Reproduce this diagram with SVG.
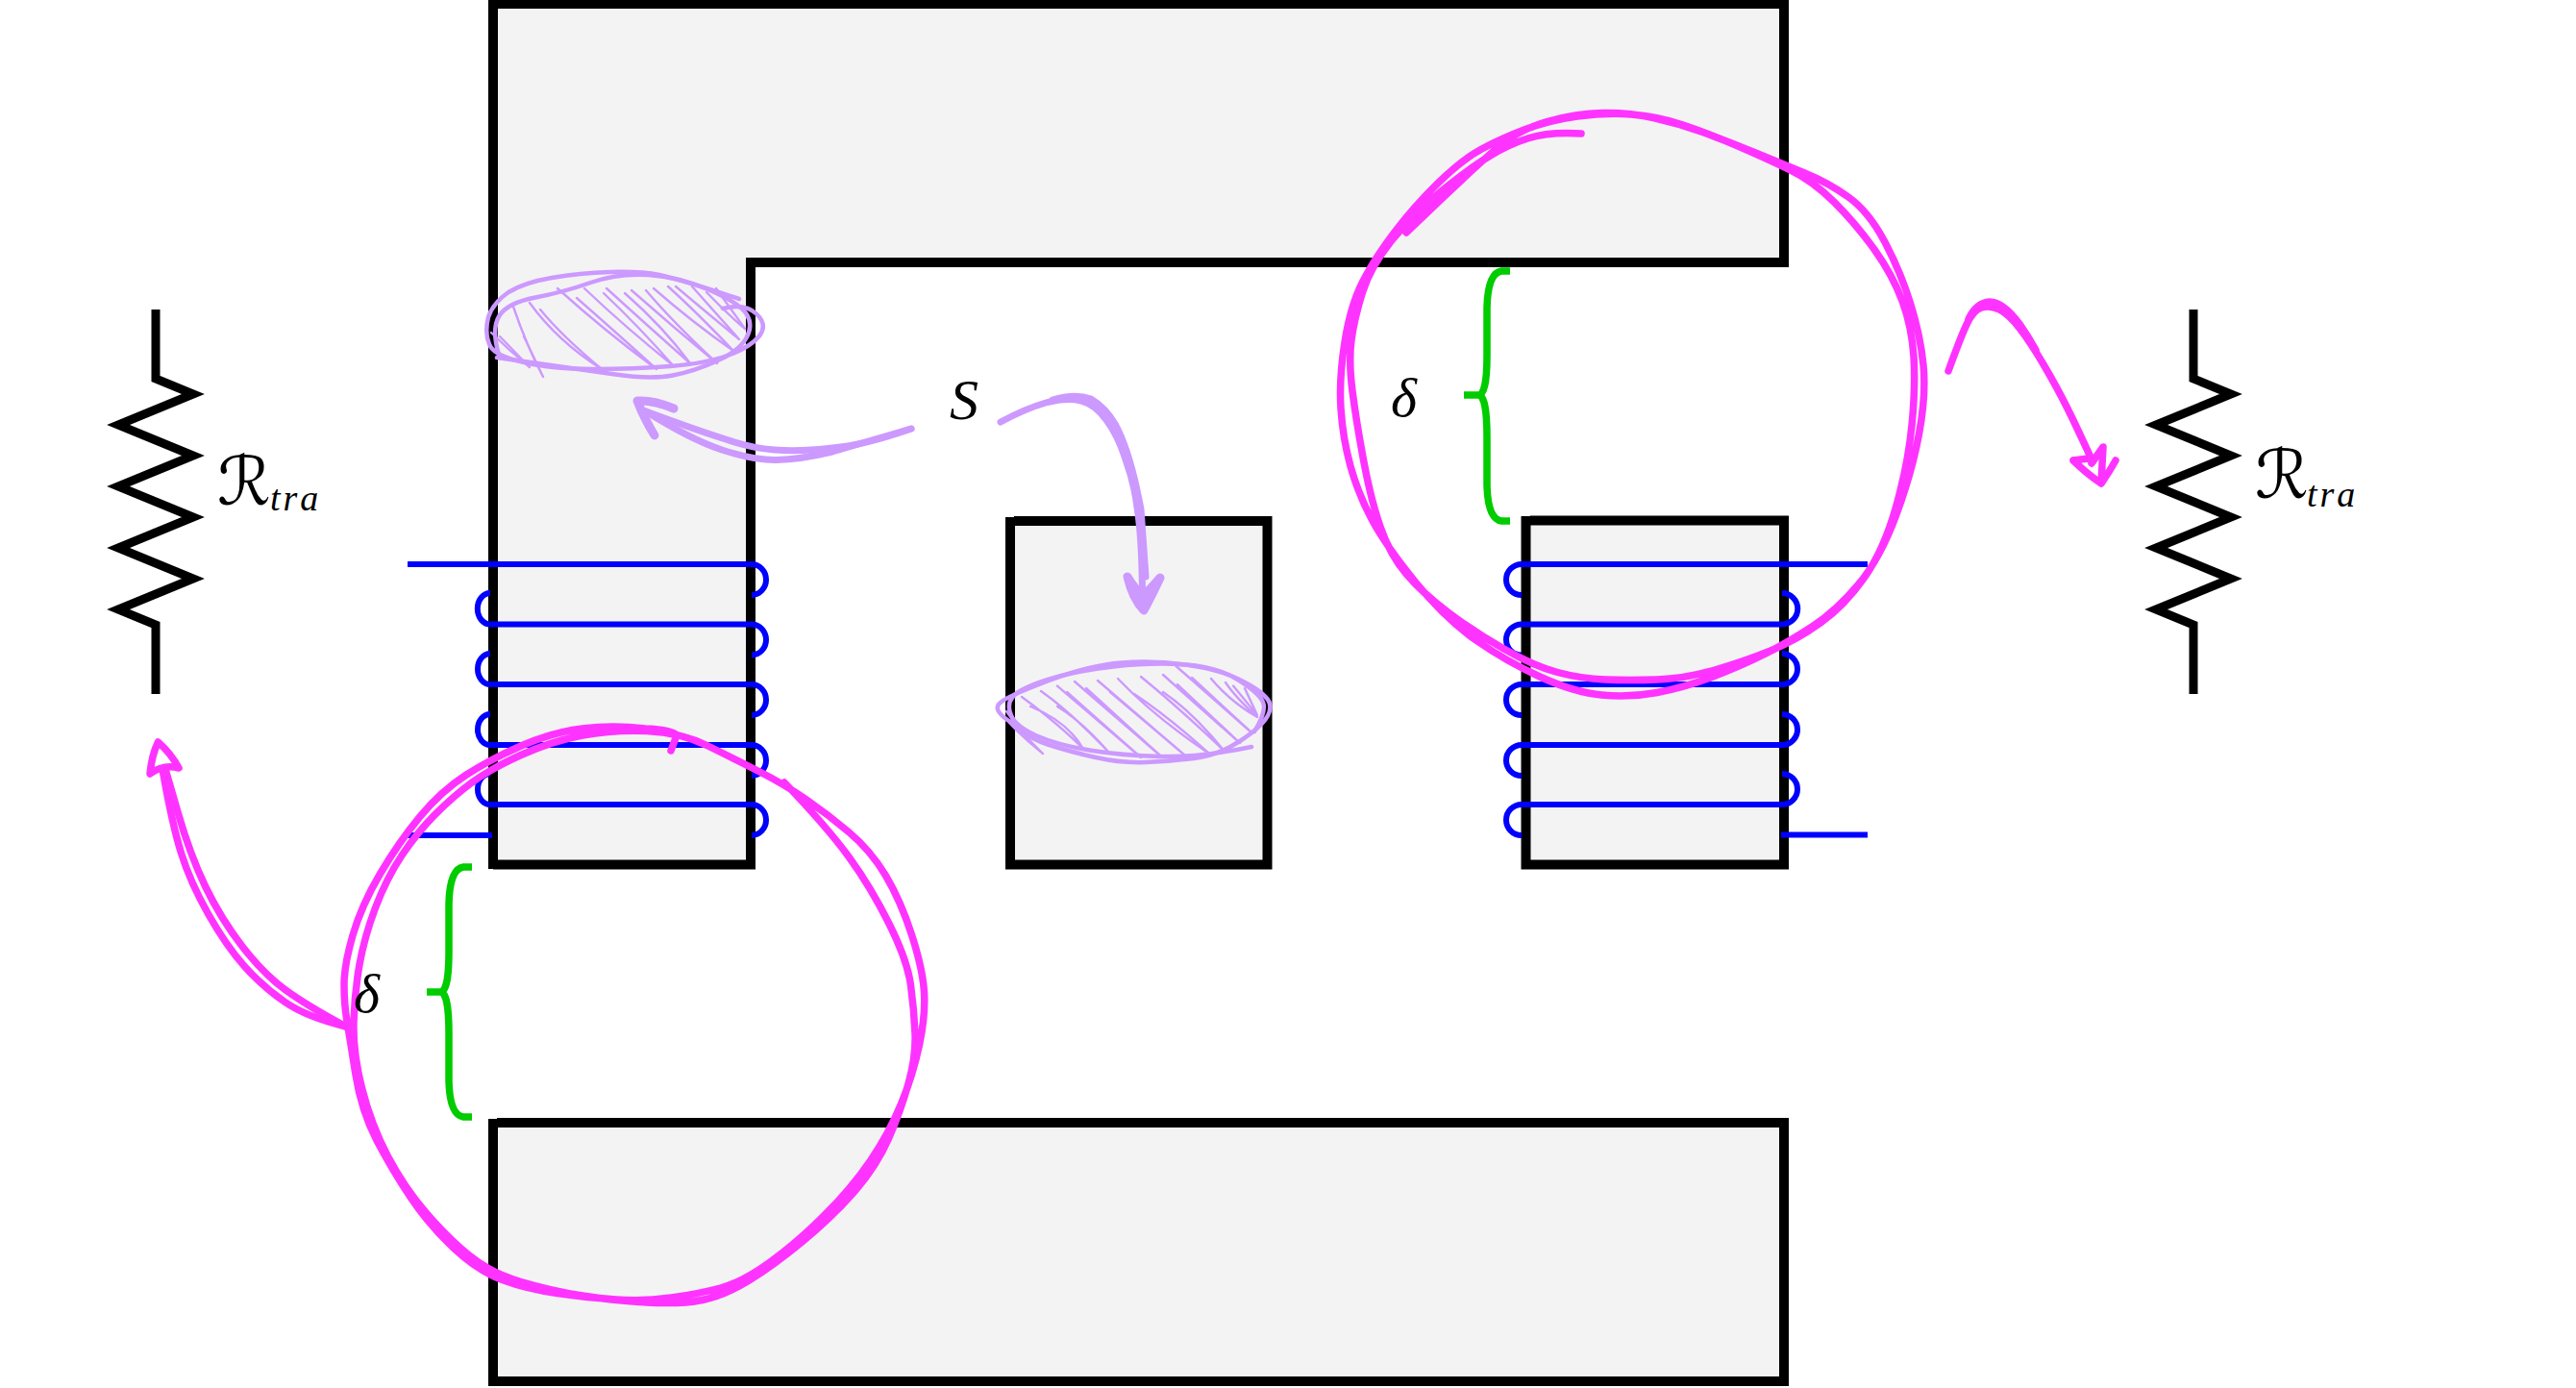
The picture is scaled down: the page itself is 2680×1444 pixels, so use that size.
<svg xmlns="http://www.w3.org/2000/svg" width="2680" height="1444" viewBox="0 0 2680 1444">
<style>
.core{fill:#f3f3f3;stroke:#000;stroke-width:10;stroke-linejoin:miter}
.res{fill:none;stroke:#000;stroke-width:9;stroke-linejoin:miter}
.coil{fill:none;stroke:#0000ff;stroke-width:6}
.brace{fill:none;stroke:#00cc00;stroke-width:7.5}
.pink{fill:none;stroke:#ff33ff;stroke-width:7.5;stroke-linecap:round;stroke-linejoin:round}
.purple{fill:none;stroke:#cc99ff;stroke-width:4.5;stroke-linecap:round;stroke-linejoin:round}
.hatch{fill:none;stroke:#cc99ff;stroke-width:2.4;stroke-linecap:round;stroke-linejoin:round}
.arrow{fill:none;stroke:#cc99ff;stroke-width:7;stroke-linecap:round;stroke-linejoin:round}
text{fill:#000;font-family:"Liberation Serif","DejaVu Serif",serif;font-style:italic}
.cal{font-family:"DejaVu Sans","Noto Sans",sans-serif;font-style:normal;font-size:70px}
</style>
<rect width="2680" height="1444" fill="#fff"/>

<g id="core-top"><path class="core" d="M513 904V4H1856V273H781V899.5H513Z"/></g>
<g id="core-middle"><path class="core" d="M1055 542H1318.5V899.5H1051V538"/></g>
<g id="core-right"><path class="core" d="M1592 541.5H1856V899.5H1587.5V537"/></g>
<g id="core-bottom"><path class="core" d="M517 1168H1856V1437H513V1164"/></g>

<g id="coil-left">
<path class="coil" d="M424 587H782A15 16 0 0 1 782 619"/>
<path class="coil" d="M510 617A13 16 0 0 0 510 649.5H782A15 16 0 0 1 782 681.5"/>
<path class="coil" d="M510 680A13 16 0 0 0 510 712H782A15 16 0 0 1 782 744"/>
<path class="coil" d="M510 743A13 16 0 0 0 510 775H782A15 16 0 0 1 782 807"/>
<path class="coil" d="M510 805A13 16 0 0 0 510 837H782A15 16 0 0 1 782 869"/>
<path class="coil" d="M424 869H512"/>
</g>
<g id="coil-right">
<path class="coil" d="M1943 587H1583A16 16 0 0 0 1583 619"/>
<path class="coil" d="M1854 617A16 16 0 0 1 1854 649.5H1583A16 16 0 0 0 1583 681.5"/>
<path class="coil" d="M1854 680A16 16 0 0 1 1854 712H1583A16 16 0 0 0 1583 744"/>
<path class="coil" d="M1854 743A16 16 0 0 1 1854 775H1583A16 16 0 0 0 1583 807"/>
<path class="coil" d="M1854 805A16 16 0 0 1 1854 837H1583A16 16 0 0 0 1583 869"/>
<path class="coil" d="M1853 868.5H1943"/>
</g>

<g id="resistor-left"><path class="res" d="M162 322V394L201 410L123 442L201 474L123 506L201 538L123 570L201 602L123 634L162 650V722"/></g>
<g id="resistor-right"><path class="res" d="M2282 322V394L2321 410L2243 442L2321 474L2243 506L2321 538L2243 570L2321 602L2243 634L2282 650V722"/></g>

<g id="brace-left"><path class="brace" d="M491 902H482Q468 904 467 940V990Q467 1032 458 1032H444M458 1032Q467 1032 467 1075V1125Q468 1160 482 1162H491"/></g>
<g id="brace-right"><path class="brace" d="M1571 282H1562Q1548 284 1547 320V370Q1547 411 1538 411H1523M1538 411Q1547 411 1547 455V505Q1548 540 1562 542H1571"/></g>

<g id="section-top">
<path class="purple" d="M769 311Q706 290 686 286Q666 282 634.5 283Q603 284 574 289Q545 294 529 304Q513 315 508 330Q504 346 509 358Q513 370 545.5 377Q574 384 617 384Q660 384 697.5 381Q735 378 758 369.5Q781 361 790 349.5Q799 338 787 326.5Q775 315 752 321"/>
<path class="purple" d="M517 372Q603 384 640 389.5Q677 395 700 390.5Q723 386 746 375.5Q769 365 776.5 351.5Q784 338 776.5 326.5Q769 315 737.5 301.5Q706 288 674.5 286Q643 284 614.5 294Q586 304 557 309.5Q528 315 519.5 328.5Q511 342 519 369"/>
<path class="hatch" d="M534 319Q548 360 565 392L545 350M551 315Q580 355 626 384Q585 350 562 322M580 300Q630 345 683 384Q640 345 600 310M608 300Q650 340 700 380Q665 340 628 305M631 300Q675 340 718 378Q690 340 650 305M657 302Q700 340 746 378Q700 335 672 302M680 300Q720 335 763 365Q725 325 695 298M703 298Q735 325 769 353Q735 315 720 298M735 304Q755 325 775 342L745 300M511 346Q530 365 551 382L520 350"/>
</g>
<g id="section-middle">
<path class="purple" d="M1042 730Q1030 738 1052 751.5Q1067 767 1090 774.5Q1113 782 1140 788Q1167 794 1192 793Q1217 792 1242 789Q1267 786 1290 771Q1313 756 1319 744.5Q1325 733 1316.5 725Q1310 717 1288.5 706.5Q1267 696 1233.5 691.5Q1200 687 1166.5 689.5Q1133 692 1090 708.5Q1047 725 1042 730"/>
<path class="purple" d="M1302 777Q1250 788 1208.5 787Q1167 786 1133.5 780.5Q1100 775 1078.5 765.5Q1057 756 1052 744.5Q1047 733 1053.5 725Q1060 717 1088.5 707.5Q1117 698 1158.5 693.5Q1200 689 1233.5 691.5Q1267 694 1288.5 707.5Q1310 721 1314 730.5Q1318 740 1305 761"/>
<path class="hatch" d="M1063 725Q1100 752 1127 779Q1110 750 1072 735M1083 719Q1113 740 1153 782Q1125 750 1100 735M1100 713.6L1187 788L1110 720M1118 709L1207 786L1130 716M1142 708L1233 786L1155 720M1163 706Q1200 745 1258 784Q1215 745 1180 722M1187 704Q1225 735 1273 780.5Q1240 740 1210 720M1210 702L1290 773L1225 712M1223 692.5L1303 763L1240 705M1260 706Q1280 730 1308 746Q1285 725 1275 710M1283 713.6L1308 744L1295 716M1047 740Q1062 762 1085 784Q1065 768 1050 752"/>
</g>

<g id="connectors">
<g id="air-gap-loops">
<path class="pink" d="M1645 139Q1612 137 1591 143.5Q1570 150 1549.5 162.5Q1529 175 1500 198.5Q1471 222 1448.5 249.5Q1426 277 1417.5 304Q1409 331 1406 353.5Q1403 376 1407 407Q1411 438 1418.5 478.5Q1426 519 1436 548Q1446 577 1463 597Q1480 617 1506.5 637Q1533 657 1564.5 675Q1596 693 1620.5 699.5Q1645 706 1670 707Q1695 708 1724 707Q1753 706 1784 697Q1815 688 1842 677Q1869 666 1894 648Q1919 630 1939.5 601Q1960 572 1972.5 527.5Q1985 483 1989 442.5Q1993 402 1991 371Q1989 340 1979 313Q1969 286 1950 259.5Q1931 233 1908.5 210.5Q1886 188 1861 176Q1836 164 1807 151.5Q1778 139 1751 130Q1724 121 1697 119Q1670 117 1641 121Q1612 125 1587 134.5Q1562 144 1541.5 155Q1521 166 1496 190.5Q1471 215 1450.5 242Q1430 269 1417.5 293.5Q1405 318 1399 356Q1393 394 1395 425Q1397 456 1405 485Q1413 514 1427.5 541Q1442 568 1473 606Q1504 644 1535.5 666Q1567 688 1602 704Q1637 720 1666 723Q1695 726 1724 720.5Q1753 715 1782 704Q1811 693 1836 680.5Q1861 668 1886 651.5Q1911 635 1933.5 608Q1956 581 1972.5 536.5Q1989 492 1996.5 451.5Q2004 411 2001 380Q1998 349 1987.5 315.5Q1977 282 1960.5 251Q1944 220 1923 205Q1902 190 1877.5 180Q1853 170 1824 158Q1795 146 1770 137Q1745 128 1720 122.5Q1695 117 1667.5 117.5Q1640 118 1609.5 126.5Q1579 135 1554 157Q1529 179 1496 210.5L1463 242"/>
<path class="pink" d="M698 781L704 765Q700 759 671 758Q638 754 606 758Q574 762 542 776Q510 790 484.5 806.5Q459 823 437 849.5Q415 876 395.5 909Q376 942 367 973Q358 1004 358 1024.5Q358 1045 361 1062.5Q364 1080 370 1118Q376 1156 392 1186.5Q408 1217 427 1245.5Q446 1274 471.5 1298Q497 1322 522.5 1331.5Q548 1341 580 1345.5Q612 1350 641 1352Q670 1354 698.5 1350Q727 1346 749.5 1340Q772 1334 800.5 1313.5Q829 1293 857.5 1264.5Q886 1236 905.5 1207.5Q925 1179 937.5 1148.5Q950 1118 956.5 1087Q963 1056 961.5 1032Q960 1008 948.5 972.5Q937 937 921.5 911Q906 885 883.5 866Q861 847 838.5 831.5Q816 816 790.5 803Q765 790 736.5 776Q708 762 673 760.5Q638 759 606 765Q574 771 542 785.5Q510 800 491 814Q472 828 453 847Q434 866 418 890Q402 914 390.5 944.5Q379 975 374 1003.5Q369 1032 368 1063Q367 1094 376.5 1132Q386 1170 403.5 1203Q421 1236 443.5 1262Q466 1288 488 1306Q510 1324 542 1333.5Q574 1343 606 1348Q638 1353 673 1355Q708 1357 730.5 1352.5Q753 1348 778.5 1332.5Q804 1317 835.5 1291Q867 1265 889.5 1239Q912 1213 924.5 1184.5Q937 1156 945 1127.5Q953 1099 952 1075Q951 1051 947.5 1025Q944 999 925 961Q906 923 883.5 892Q861 861 816 814"/>
</g>
<g id="arrow-flux-left">
<path class="pink" d="M360 1068Q319 1058 296.5 1042.5Q274 1027 255 1006Q236 985 217 951.5Q198 918 188.5 887.5Q179 857 169 800"/>
<path class="pink" d="M360 1068Q319 1046 296.5 1029.5Q274 1013 252 984.5Q230 956 214 923Q198 890 185 845L172 800"/>
<path class="pink" d="M156 805Q158 785 164.5 772Q178 784 186 799Q170 795 156 805Z"/>
</g>
<g id="arrow-flux-right">
<path class="pink" d="M2027 386Q2040 350 2046.5 336.5Q2053 323 2061.5 320Q2070 317 2080 322Q2090 327 2101.5 342Q2113 357 2126.5 380Q2140 403 2150 423Q2160 443 2177 480"/>
<path class="pink" d="M2048 332Q2056 315 2070 314Q2084 314 2101 337Q2110 350 2118 364"/>
<path class="pink" d="M2157 479L2180 476M2157 479Q2170 492 2186 503L2188 465L2176 482M2186 503Q2195 490 2201 479"/>
</g>
<g id="arrow-s-left">
<path class="arrow" d="M672 428Q718 457 751 468Q785 479 808 478.5Q832 478 866 470L948 446"/>
<path class="arrow" d="M672 428Q729 449 755 457Q781 466 806 468Q832 470 866 466Q900 463 948 446"/>
<path class="arrow" style="stroke-width:9" d="M701 425Q680 416 663 417Q670 435 681 453"/>
</g>
<g id="arrow-s-right">
<path class="arrow" d="M1041 439Q1067 425 1088 419Q1110 413 1125 417Q1140 421 1151 437Q1163 453 1171 478Q1180 503 1183 528Q1187 553 1188 593L1189 633"/>
<path class="arrow" d="M1095 416Q1118 409 1135 415Q1150 424 1160 441Q1176 470 1187 530L1192 600"/>
<path class="arrow" style="stroke-width:9;fill:#cc99ff" d="M1173 600Q1178 622 1190 635Q1198 620 1207 601Q1195 615 1189 620Q1180 612 1173 600Z"/>
</g>
</g>

<g id="labels">
<text x="988" y="436" font-size="60">S</text>
<text x="1447" y="433" font-size="58">δ</text>
<text x="368" y="1053" font-size="58">δ</text>
<g id="label-r-left"><text class="cal" x="226" y="525">ℛ</text><text x="281" y="531" font-size="38" letter-spacing="3">tra</text></g>
<g id="label-r-right"><text class="cal" x="2346" y="518">ℛ</text><text x="2400" y="527" font-size="38" letter-spacing="3">tra</text></g>
</g>
</svg>
